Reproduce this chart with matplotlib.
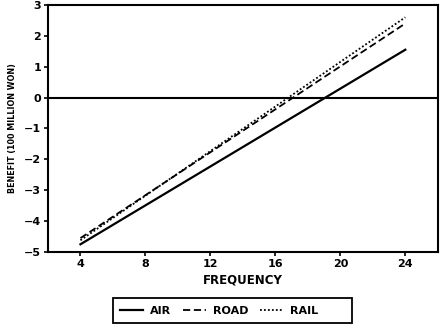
import matplotlib
matplotlib.use("Agg")
import matplotlib.pyplot as plt
from matplotlib.patches import Rectangle

# Net benefit of service frequency by mode (100 million won)
frequency = [4, 24]
air = [-4.75, 1.55]
road = [-4.55, 2.40]
rail = [-4.62, 2.60]

x_ticks = [4, 8, 12, 16, 20, 24]
y_ticks = [-5, -4, -3, -2, -1, 0, 1, 2, 3]

plt.rcParams["font.family"] = ["DejaVu Sans"]
plt.rcParams["font.weight"] = "bold"

fig = plt.figure(figsize=(4.4, 3.29), dpi=100)
ax = fig.add_axes([0.109, 0.234, 0.886, 0.751])

ax.plot(frequency, air, color="black", lw=1.6, ls="-", label="AIR")
ax.plot(frequency, road, color="black", lw=1.3, ls=(0, (4, 2)), label="ROAD")
ax.plot(frequency, rail, color="black", lw=1.3, ls=(0, (1, 1.2)), label="RAIL")
ax.axhline(0, color="black", lw=1.5)

ax.set_xlim(2, 26)
ax.set_ylim(-5, 3)
ax.set_xticks(x_ticks)
ax.set_yticks(y_ticks)
ax.tick_params(axis="both", direction="out", length=3, width=1.2, labelsize=8, pad=2)
for lbl in ax.get_xticklabels() + ax.get_yticklabels():
    lbl.set_fontweight("bold")
for sp in ax.spines.values():
    sp.set_linewidth(1.5)

ax.set_xlabel("FREQUENCY", fontsize=8.5, fontweight="bold", labelpad=3)
ax.set_ylabel("BENEFIT (100 MILLION WON)", fontsize=5.8, fontweight="bold", labelpad=5)

# Legend row under the plot, with its own rectangular frame
handles, labels = ax.get_legend_handles_labels()
leg = fig.legend(handles, labels, loc="center left", bbox_to_anchor=(0.273, 0.056),
                 ncol=3, frameon=False, prop={"size": 8, "weight": "bold"},
                 handlelength=2.1, handletextpad=0.6, columnspacing=1.05,
                 borderpad=0, borderaxespad=0)
fig.patches.append(Rectangle((0.257, 0.018), 0.543, 0.076, transform=fig.transFigure,
                             fill=False, edgecolor="black", linewidth=1.3))

fig.savefig("out.png", dpi=100)
